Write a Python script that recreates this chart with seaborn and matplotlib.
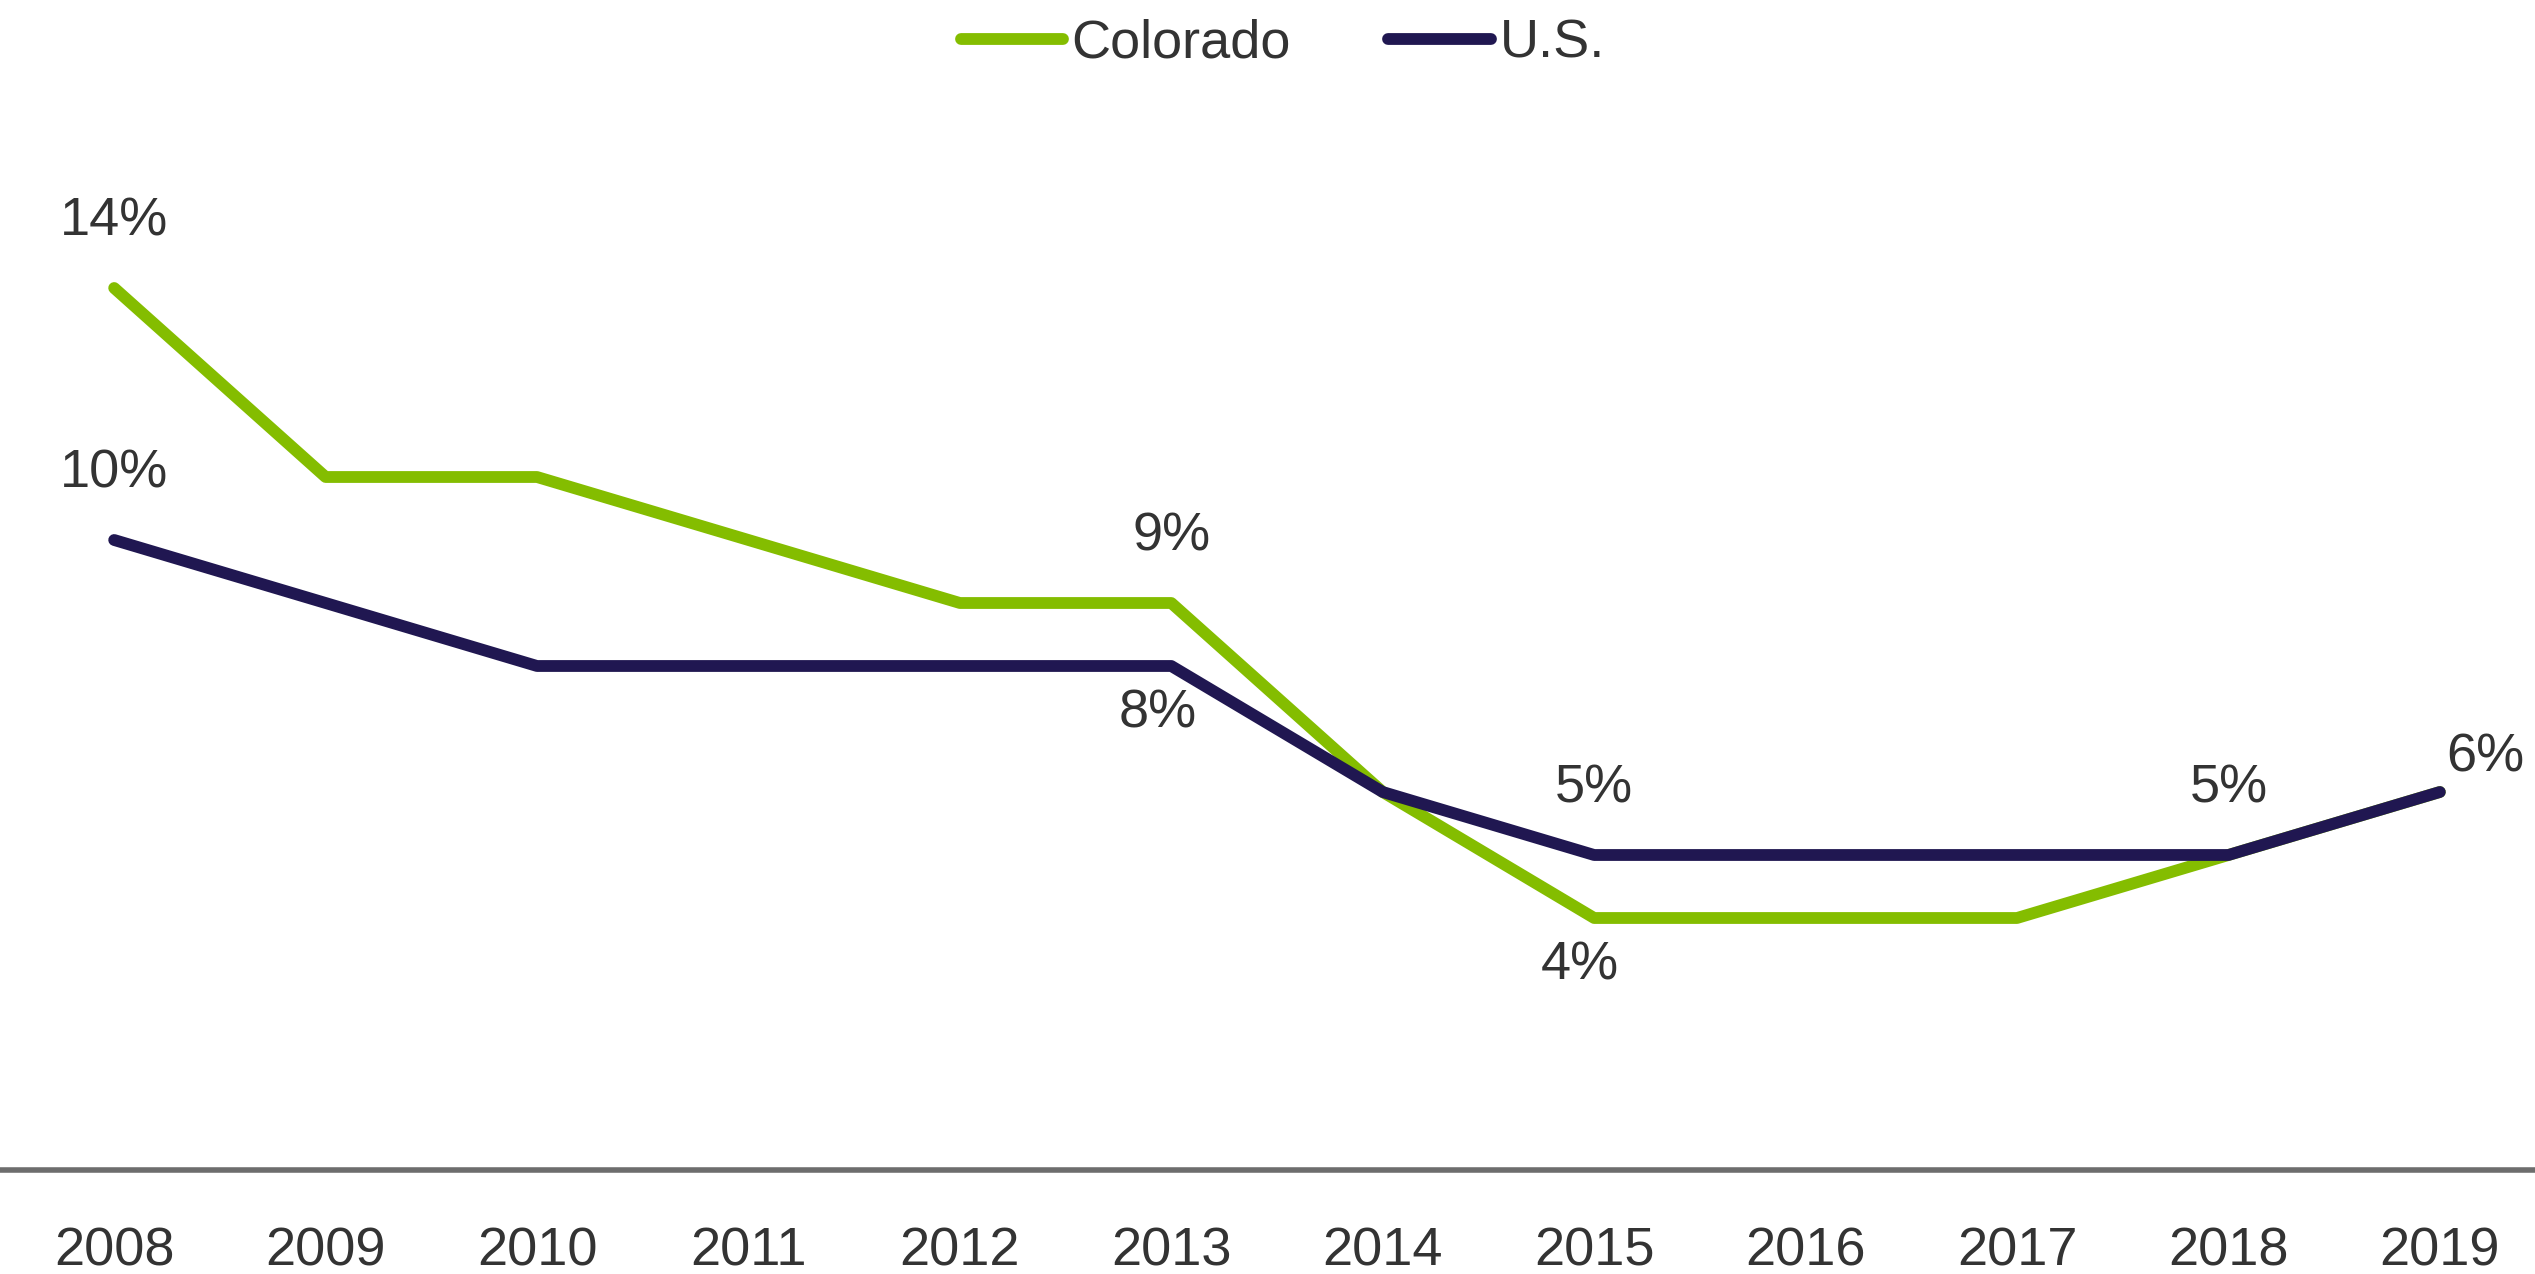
import pandas as pd
import matplotlib.pyplot as plt
import seaborn as sns

# data
years = [2008, 2009, 2010, 2011, 2012, 2013, 2014, 2015, 2016, 2017, 2018, 2019]
colorado = [14, 11, 11, 10, 9, 9, 6, 4, 4, 4, 5, 6]
us = [10, 9, 8, 8, 8, 8, 6, 5, 5, 5, 5, 6]
series_names = ['Colorado', 'U.S.']
series_colors = ['#84BD00', '#201751']

# which points get a value label: (series, year, placement)
labels = [
    ('Colorado', 2008, 'above'),
    ('U.S.', 2008, 'above'),
    ('Colorado', 2013, 'above'),
    ('U.S.', 2013, 'below'),
    ('U.S.', 2015, 'above'),
    ('Colorado', 2015, 'below'),
    ('U.S.', 2018, 'above'),
    ('U.S.', 2019, 'right'),
]

df = pd.DataFrame({
    'year': years * 2,
    'value': colorado + us,
    'series': ['Colorado'] * len(years) + ['U.S.'] * len(years),
})

sns.set_style('white')
plt.rcParams['font.family'] = ['Liberation Sans', 'DejaVu Sans']
text_color = '#333333'
fs = 39
lw = 8.5

fig = plt.figure(figsize=(25.35, 12.74), dpi=100)
ax = fig.add_axes([0, (1274 - 1170) / 1274, 1, 16 * 63 / 1274])

sns.lineplot(data=df, x='year', y='value', hue='series', hue_order=series_names,
             palette=series_colors, linewidth=lw, ax=ax, legend=False)

ax.set_xlim(2007.46, 2019.45)
ax.set_ylim(0, 16)
ax.set_xticks(years)
ax.set_xticklabels([str(y) for y in years], fontsize=fs, color=text_color)
ax.tick_params(axis='x', length=0, pad=41)
ax.set_yticks([])
ax.set_xlabel('')
ax.set_ylabel('')
for side in ['top', 'right', 'left']:
    ax.spines[side].set_visible(False)
ax.spines['bottom'].set_color('#6d6d6d')
ax.spines['bottom'].set_linewidth(4)

lookup = {'Colorado': dict(zip(years, colorado)), 'U.S.': dict(zip(years, us))}
for name, yr, where in labels:
    v = lookup[name][yr]
    if where == 'above':
        off = (0, 48)
    elif where == 'below':
        off = (-10, -34)
    else:
        off = (33, 25)
    ax.annotate(f'{v}%', (yr, v), xytext=off, textcoords='offset points',
                ha='center', va='center', fontsize=fs, color=text_color)

handles = [plt.Line2D([], [], color=c, linewidth=lw) for c in series_colors]
fig.legend(handles, series_names, loc='center', bbox_to_anchor=(0.506, 1 - 44 / 1274),
           ncol=2, frameon=False, fontsize=fs, handlelength=1.9, handletextpad=0.15,
           columnspacing=1.8, labelcolor=text_color)

fig.savefig('out.png', dpi=100)
